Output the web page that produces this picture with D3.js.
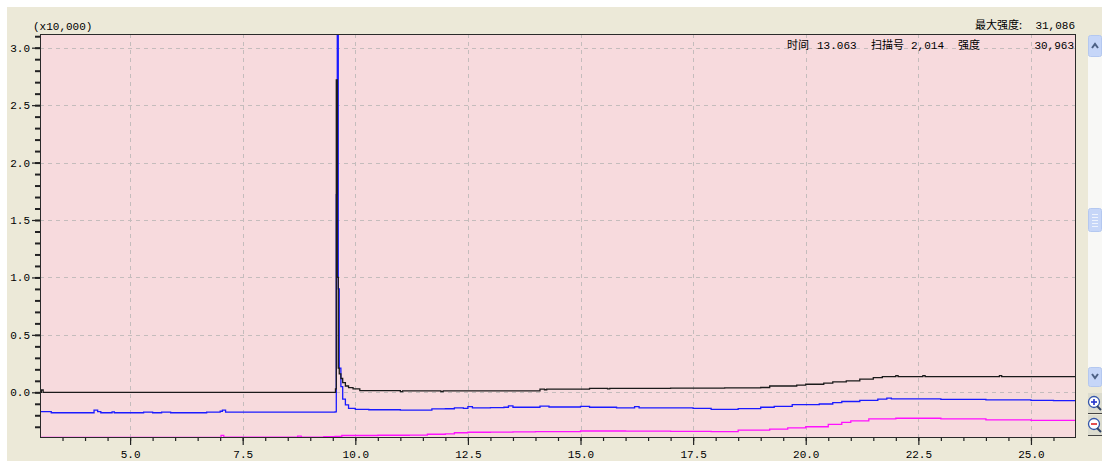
<!DOCTYPE html>
<html>
<head>
<meta charset="utf-8">
<script src="https://cdn.jsdelivr.net/npm/d3@7"></script>
<style>
  html, body { margin: 0; padding: 0; background: #ffffff; }
  svg { display: block; }
  text { font-family: "Liberation Mono", "DejaVu Sans Mono", "Noto Sans CJK SC", monospace; fill: #000; }
  .cjk { font-family: "Noto Sans CJK SC", sans-serif; }
</style>
</head>
<body>
<svg id="chart"></svg>
<script>
// time (min) and intensity (x10,000)
const blackTrace = [
  [3.0, 0.0], [3.03, 0.02], [3.07, 0.0], [9.55, 0.0], [9.56, 0.03],
  [9.578, 2.72], [9.6, 1.0], [9.622, 0.21], [9.644, 0.16], [9.68, 0.12],
  [9.72, 0.085], [9.78, 0.055], [9.85, 0.04], [9.95, 0.03], [10.1, 0.015],
  [11.0, 0.006], [11.05, 0.013], [11.9, 0.006], [11.95, 0.013], [14.1, 0.027],
  [14.2, 0.022], [14.25, 0.027], [15.2, 0.035], [15.6, 0.03], [15.65, 0.035],
  [17.0, 0.036], [18.2, 0.038], [19.0, 0.042], [19.2, 0.055], [19.8, 0.062],
  [20.0, 0.07], [20.4, 0.08], [20.6, 0.09], [20.9, 0.1], [21.2, 0.115],
  [21.5, 0.128], [21.7, 0.136], [22.0, 0.145], [22.05, 0.136], [22.6, 0.145],
  [22.65, 0.136], [24.3, 0.145], [24.35, 0.136], [26.0, 0.136]
];

const blueTrace = [
  [3.0, -0.168], [3.25, -0.178], [4.15, -0.178], [4.2, -0.155], [4.28, -0.168],
  [4.35, -0.178], [4.6, -0.17], [4.65, -0.178], [5.3, -0.172], [5.5, -0.178],
  [5.7, -0.172], [5.9, -0.178], [6.7, -0.172], [7.0, -0.165], [7.05, -0.155],
  [7.12, -0.172], [9.55, -0.17], [9.578, 1.72], [9.6, 3.3], [9.622, 0.9],
  [9.644, 0.21], [9.68, 0.05], [9.72, -0.06], [9.78, -0.11], [9.85, -0.14],
  [10.0, -0.148], [10.3, -0.152], [11.0, -0.155], [11.5, -0.155], [11.7, -0.145],
  [12.0, -0.143], [12.2, -0.135], [12.4, -0.14], [12.5, -0.125], [12.6, -0.135],
  [13.0, -0.133], [13.3, -0.13], [13.4, -0.118], [13.5, -0.13], [14.0, -0.13],
  [14.1, -0.12], [14.3, -0.128], [15.0, -0.122], [15.2, -0.13], [15.8, -0.135],
  [16.2, -0.125], [16.3, -0.135], [17.5, -0.14], [17.9, -0.148], [18.5, -0.142],
  [19.0, -0.13], [19.3, -0.122], [19.7, -0.108], [20.3, -0.102], [20.6, -0.09],
  [20.8, -0.08], [21.2, -0.07], [21.6, -0.06], [21.8, -0.05], [21.9, -0.058],
  [22.5, -0.058], [23.0, -0.062], [24.0, -0.066], [25.0, -0.07], [25.5, -0.072],
  [26.0, -0.076]
];

const magentaTrace = [
  [3.0, -0.392], [7.0, -0.392], [7.02, -0.375], [7.08, -0.39], [8.7, -0.39],
  [8.72, -0.382], [8.8, -0.39], [9.3, -0.386], [9.55, -0.384], [9.7, -0.376],
  [10.5, -0.374], [11.2, -0.372], [11.6, -0.365], [12.0, -0.362], [12.2, -0.352],
  [12.5, -0.348], [13.0, -0.347], [13.5, -0.344], [14.0, -0.342], [15.0, -0.337],
  [16.0, -0.338], [17.0, -0.34], [17.9, -0.343], [18.5, -0.33], [19.2, -0.32],
  [19.6, -0.31], [20.0, -0.3], [20.5, -0.28], [20.8, -0.262], [21.0, -0.248],
  [21.4, -0.232], [22.0, -0.226], [23.0, -0.232], [24.0, -0.24], [25.0, -0.245],
  [26.0, -0.247]
];

const xTicks = [5.0, 7.5, 10.0, 12.5, 15.0, 17.5, 20.0, 22.5, 25.0];
const yTicks = [0.0, 0.5, 1.0, 1.5, 2.0, 2.5, 3.0];
const unitLabel = "(x10,000)";
const maxLabel = "最大强度:";
const maxValue = "31,086";
// cursor readout pieces: [text, left x]
const cursorInfo = [["时间", 787], ["13.063", 817], ["扫描号", 871], ["2,014", 911], ["强度", 958]];
const cursorValue = "30,963";

const width = 1102, height = 461;
const plot = { left: 40, top: 34, right: 1076, bottom: 438 };

const svg = d3.select("#chart").attr("width", width).attr("height", height);

// window background
svg.append("rect").attr("width", width).attr("height", height).attr("fill", "#ffffff");
svg.append("rect").attr("x", 7).attr("y", 7).attr("width", width - 7).attr("height", height - 7)
  .attr("fill", "#ece9d8");

const x = d3.scaleLinear().domain([3.0, 26.0]).range([plot.left, plot.right]);
const y = d3.scaleLinear().domain([0.0, 3.0]).range([392.3, 47.7]);

svg.append("rect")
  .attr("x", plot.left).attr("y", plot.top)
  .attr("width", plot.right - plot.left).attr("height", plot.bottom - plot.top)
  .attr("fill", "#f7dadd");

svg.append("defs").append("clipPath").attr("id", "clip")
  .append("rect")
  .attr("x", plot.left).attr("y", plot.top + 1)
  .attr("width", plot.right - plot.left).attr("height", plot.bottom - plot.top - 1);

// dashed grid
const grid = svg.append("g").attr("shape-rendering", "crispEdges");
grid.selectAll(".vgrid").data(xTicks).join("line")
  .attr("x1", d => Math.round(x(d)) + 0.5).attr("x2", d => Math.round(x(d)) + 0.5)
  .attr("y1", plot.top).attr("y2", plot.bottom)
  .attr("stroke", "#c4bcbc").attr("stroke-dasharray", "4,4");
grid.selectAll(".hgrid").data(yTicks).join("line")
  .attr("x1", plot.left).attr("x2", plot.right)
  .attr("y1", d => Math.round(y(d)) + 0.5).attr("y2", d => Math.round(y(d)) + 0.5)
  .attr("stroke", "#c4bcbc").attr("stroke-dasharray", "4,4");

// traces
const line = d3.line()
  .x(d => x(d[0]))
  .y(d => y(d[1]))
  .curve(d3.curveStepAfter);

const traces = svg.append("g").attr("clip-path", "url(#clip)");
[[magentaTrace, "#ff10ff"], [blueTrace, "#1a1aff"], [blackTrace, "#1a1a1a"]]
  .forEach(([data, color]) => {
    traces.append("path")
      .datum(data)
      .attr("d", line)
      .attr("fill", "none")
      .attr("stroke", color)
      .attr("stroke-width", 1.3);
  });

// frame
svg.append("rect")
  .attr("x", plot.left + 0.5).attr("y", plot.top + 0.5)
  .attr("width", plot.right - plot.left - 1).attr("height", plot.bottom - plot.top - 1)
  .attr("fill", "none").attr("stroke", "#2a2a2a").attr("stroke-width", 1.2)
  .attr("shape-rendering", "crispEdges");

// y axis
const yAxis = d3.axisLeft(y).tickValues(yTicks).tickSize(8).tickPadding(2)
  .tickFormat(d3.format(".1f"));
const yMinor = d3.axisLeft(y).tickValues(d3.range(-0.3, 3.11, 0.1)).tickSize(5).tickFormat("");
svg.append("g").attr("transform", `translate(${plot.left},0)`).call(yMinor)
  .call(g => g.select(".domain").remove())
  .call(g => g.selectAll("line").attr("stroke", "#222").attr("stroke-width", 2));
svg.append("g").attr("transform", `translate(${plot.left},0)`).call(yAxis)
  .call(g => g.select(".domain").remove())
  .call(g => g.selectAll("line").attr("stroke", "#222").attr("stroke-width", 1.2))
  .call(g => g.selectAll("text").attr("font-size", 11).attr("fill", "#000")
    .style("font-family", "'Liberation Mono', monospace"));

// x axis
const xAxis = d3.axisBottom(x).tickValues(xTicks).tickSize(7).tickPadding(5)
  .tickFormat(d3.format(".1f"));
const xMinor = d3.axisBottom(x).tickValues(d3.range(3.5, 26.0, 0.5)).tickSize(3).tickFormat("");
svg.append("g").attr("transform", `translate(0,${plot.bottom})`).call(xMinor)
  .call(g => g.select(".domain").remove())
  .call(g => g.selectAll("line").attr("stroke", "#222").attr("stroke-width", 1.2));
svg.append("g").attr("transform", `translate(0,${plot.bottom})`).call(xAxis)
  .call(g => g.select(".domain").remove())
  .call(g => g.selectAll("line").attr("stroke", "#222").attr("stroke-width", 1.2))
  .call(g => g.selectAll("text").attr("font-size", 11).attr("fill", "#000")
    .style("font-family", "'Liberation Mono', monospace"));

// header texts
svg.append("text").attr("x", 33).attr("y", 30).attr("font-size", 11).text(unitLabel);
svg.append("text").attr("class", "cjk").attr("x", 1022).attr("y", 29)
  .attr("text-anchor", "end").attr("font-size", 11).text(maxLabel);
svg.append("text").attr("x", 1075).attr("y", 29)
  .attr("text-anchor", "end").attr("font-size", 11).text(maxValue);
svg.selectAll(".cursor-info").data(cursorInfo).join("text")
  .attr("class", d => /[0-9]/.test(d[0]) ? "cursor-info" : "cursor-info cjk")
  .attr("x", d => d[1]).attr("y", 49)
  .attr("font-size", 11)
  .text(d => d[0]);
svg.append("text").attr("x", 1074).attr("y", 49)
  .attr("text-anchor", "end").attr("font-size", 11).text(cursorValue);

// scrollbar
const sb = svg.append("g");
const sbX = 1088, sbW = 14;
sb.append("rect").attr("x", sbX).attr("y", 56).attr("width", sbW).attr("height", 312).attr("fill", "#f8f8f6");
const btnFill = "#c6d6f8";
[[35, 21], [208, 23], [367, 19]].forEach(([by, bh]) => {
  sb.append("rect").attr("x", sbX + 0.5).attr("y", by + 0.5).attr("width", sbW - 1).attr("height", bh)
    .attr("rx", 2).attr("fill", btnFill).attr("stroke", "#b4c8f0");
});
sb.append("path").attr("d", `M${sbX + 4},${48} L${sbX + 7},${44} L${sbX + 10},${48}`)
  .attr("fill", "none").attr("stroke", "#4d6185").attr("stroke-width", 2);
sb.append("path").attr("d", `M${sbX + 4},${374} L${sbX + 7},${378} L${sbX + 10},${374}`)
  .attr("fill", "none").attr("stroke", "#4d6185").attr("stroke-width", 2);
[214, 217, 220, 223, 226].forEach(gy => {
  sb.append("line").attr("x1", sbX + 4).attr("x2", sbX + 10).attr("y1", gy + 0.5).attr("y2", gy + 0.5)
    .attr("stroke", "#eef3fd");
});

// zoom icons
[[403, "#2233cc", true], [425, "#dd2222", false]].forEach(([cy, color, plus]) => {
  sb.append("rect").attr("x", sbX).attr("y", cy - 10).attr("width", sbW).attr("height", 21).attr("fill", "#dcdccf");
  sb.append("circle").attr("cx", sbX + 6).attr("cy", cy - 1).attr("r", 5.5)
    .attr("fill", "#ffffff").attr("stroke", "#3355aa").attr("stroke-width", 1.3);
  sb.append("line").attr("x1", sbX + 9).attr("y1", cy + 3).attr("x2", sbX + 13).attr("y2", cy + 7)
    .attr("stroke", "#334466").attr("stroke-width", 2);
  sb.append("line").attr("x1", sbX + 3).attr("x2", sbX + 9).attr("y1", cy - 1).attr("y2", cy - 1)
    .attr("stroke", color).attr("stroke-width", 1.6);
  if (plus) {
    sb.append("line").attr("x1", sbX + 6).attr("x2", sbX + 6).attr("y1", cy - 4).attr("y2", cy + 2)
      .attr("stroke", color).attr("stroke-width", 1.6);
  }
  sb.append("line").attr("x1", sbX).attr("x2", sbX + sbW).attr("y1", cy + 10.5).attr("y2", cy + 10.5)
    .attr("stroke", "#444");
});
</script>
</body>
</html>
